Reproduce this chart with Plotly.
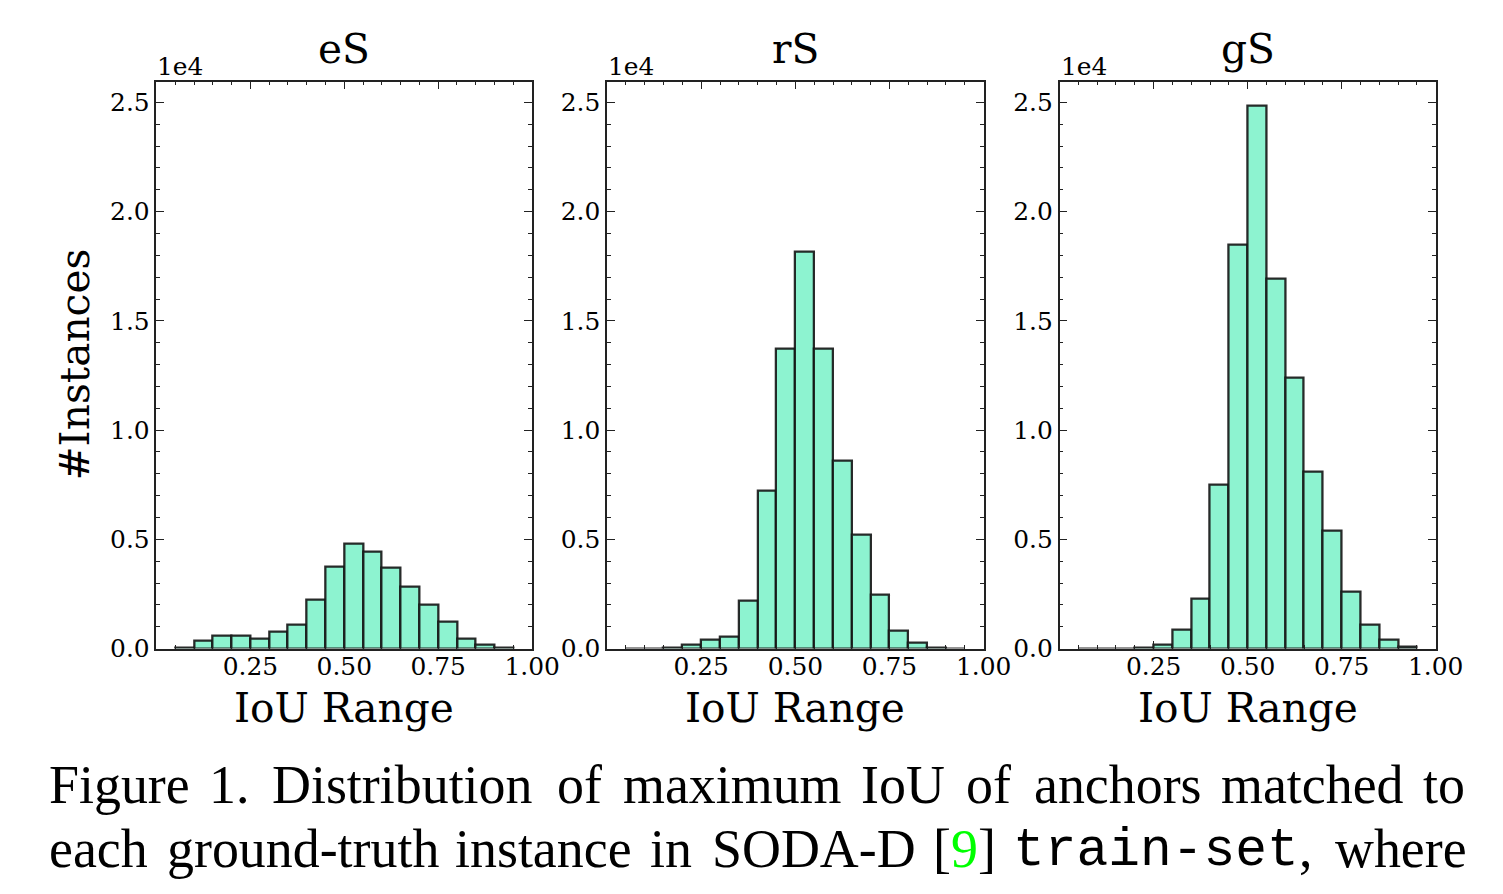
import plotly.graph_objects as go

# ---------------- data ----------------
bin_centers = [0.075, 0.125, 0.175, 0.225, 0.275, 0.325, 0.375, 0.425, 0.475,
               0.525, 0.575, 0.625, 0.675, 0.725, 0.775, 0.825, 0.875, 0.925]
bin_width = 0.05

es_counts = [60, 340, 570, 610, 475, 780, 1090, 2240, 3740,
             4810, 4440, 3690, 2830, 2010, 1255, 460, 200, 50]
rs_counts = [0, 0, 60, 200, 400, 550, 2210, 7230, 13730,
             18170, 13740, 8580, 5210, 2470, 840, 260, 60, 0]
gs_counts = [0, 0, 0, 20, 170, 880, 2300, 7500, 18470,
             24850, 16930, 12420, 8090, 5420, 2600, 1110, 400, 90]

panel_titles = ["eS", "rS", "gS"]
x_tickvals = [0.25, 0.5, 0.75, 1.0]
x_ticktext = ["0.25", "0.50", "0.75", "1.00"]
y_tickvals = [0, 5000, 10000, 15000, 20000, 25000]
y_ticktext = ["0.0", "0.5", "1.0", "1.5", "2.0", "2.5"]

# ---------------- layout constants ----------------
K = 0.9825                   # observed page -> picture scale
OFF = 8                      # html body margin
W, H = 1514, 894
SERIF = "DejaVu Serif"
TIMES = "Liberation Serif"
MONO = "Liberation Mono"
FILL = "#8DF3D0"
EDGE = "rgba(20,20,20,0.9)"
AX = "#222222"

panels_px = [(156.5, 532.5), (607.5, 984.5), (1060.5, 1437.0)]
top_px, bot_px = 81.5, 648.0


def px_x(x):
    return (x / K - OFF) / W


def px_y(y):
    return 1 - (y / K - OFF) / H


def fs(s):
    return round(s / K, 1)


fig = go.Figure()
series = [es_counts, rs_counts, gs_counts]
for i, counts in enumerate(series):
    suffix = "" if i == 0 else str(i + 1)
    fig.add_trace(go.Bar(
        x=bin_centers, y=counts, width=bin_width,
        marker=dict(color=FILL, line=dict(color=EDGE, width=2.3)),
        xaxis="x" + suffix, yaxis="y" + suffix, showlegend=False,
    ))

annotations = []
for i, (l, r) in enumerate(panels_px):
    suffix = "" if i == 0 else str(i + 1)
    common = dict(
        ticks="inside", ticklen=8, tickwidth=1.3, tickcolor=AX,
        showline=True, linecolor=AX, linewidth=1.6, mirror="allticks",
        showgrid=False, zeroline=False, fixedrange=True,
        tickfont=dict(family=SERIF, size=fs(24.5), color="black"),
    )
    xa = dict(
        domain=[px_x(l), px_x(r)], range=[0.0, 1.0], anchor="y" + suffix,
        tickvals=x_tickvals, ticktext=x_ticktext, ticklabelstandoff=-5,
        minor=dict(ticks="inside", ticklen=4, tickwidth=1.1, tickcolor=AX,
                   dtick=0.05, tick0=0, showgrid=False),
        **common,
    )
    ya = dict(
        domain=[px_y(bot_px), px_y(top_px)], range=[0, 25950], anchor="x" + suffix,
        tickvals=y_tickvals, ticktext=y_ticktext,
        minor=dict(ticks="inside", ticklen=4, tickwidth=1.1, tickcolor=AX,
                   dtick=1000, tick0=0, showgrid=False),
        **common,
    )
    fig.update_layout(**{"xaxis" + suffix: xa, "yaxis" + suffix: ya})

    cx = (l + r) / 2
    annotations.append(dict(text=panel_titles[i], x=px_x(cx), y=px_y(49),
                            xref="paper", yref="paper", xanchor="center", yanchor="middle",
                            showarrow=False, font=dict(family=SERIF, size=fs(40), color="black")))
    annotations.append(dict(text="1e4", x=px_x(l - 1), y=px_y(66),
                            xref="paper", yref="paper", xanchor="left", yanchor="middle",
                            showarrow=False, font=dict(family=SERIF, size=fs(24.5), color="black")))
    annotations.append(dict(text="IoU Range", x=px_x(cx), y=px_y(707),
                            xref="paper", yref="paper", xanchor="center", yanchor="middle",
                            showarrow=False, font=dict(family=SERIF, size=fs(40), color="black")))

annotations.append(dict(text="#Instances", x=px_x(75), y=px_y(364), textangle=-90,
                        xref="paper", yref="paper", xanchor="center", yanchor="middle",
                        showarrow=False, font=dict(family=SERIF, size=fs(40), color="black")))

# ---------------- caption (justified, word by word) ----------------
line1 = [("Figure", 48.0), ("1.", 208.0), ("Distribution", 271.0), ("of", 556.0),
         ("maximum", 622.0), ("IoU", 861.0), ("of", 966.0), ("anchors", 1034.0),
         ("matched", 1221.0), ("to", 1423.0)]
line2 = [("each", 48.0), ("ground-truth", 166.0), ("instance", 454.8), ("in", 649.4),
         ("SODA-D", 711.5), ("[<span style='color:#00FF00'>9</span>]", 932.6),
         ("train-set", 1013.0), (",", 1299.0), ("where", 1335.7)]
for words, yc in ((line1, 784), (line2, 848)):
    for w, xl in words:
        mono = w == "train-set"
        annotations.append(dict(text=w, x=px_x(xl - 1), y=px_y(yc + (2 if mono else 0)),
                                xref="paper", yref="paper", xanchor="left", yanchor="middle",
                                showarrow=False,
                                font=dict(family=MONO if mono else TIMES,
                                          size=fs(52 if mono else 53), color="black")))

fig.update_layout(
    width=W, height=H, margin=dict(l=0, r=0, t=0, b=0),
    paper_bgcolor="white", plot_bgcolor="white",
    bargap=0, annotations=annotations, showlegend=False,
)

fig.write_html("out.html", config={"displayModeBar": False})
